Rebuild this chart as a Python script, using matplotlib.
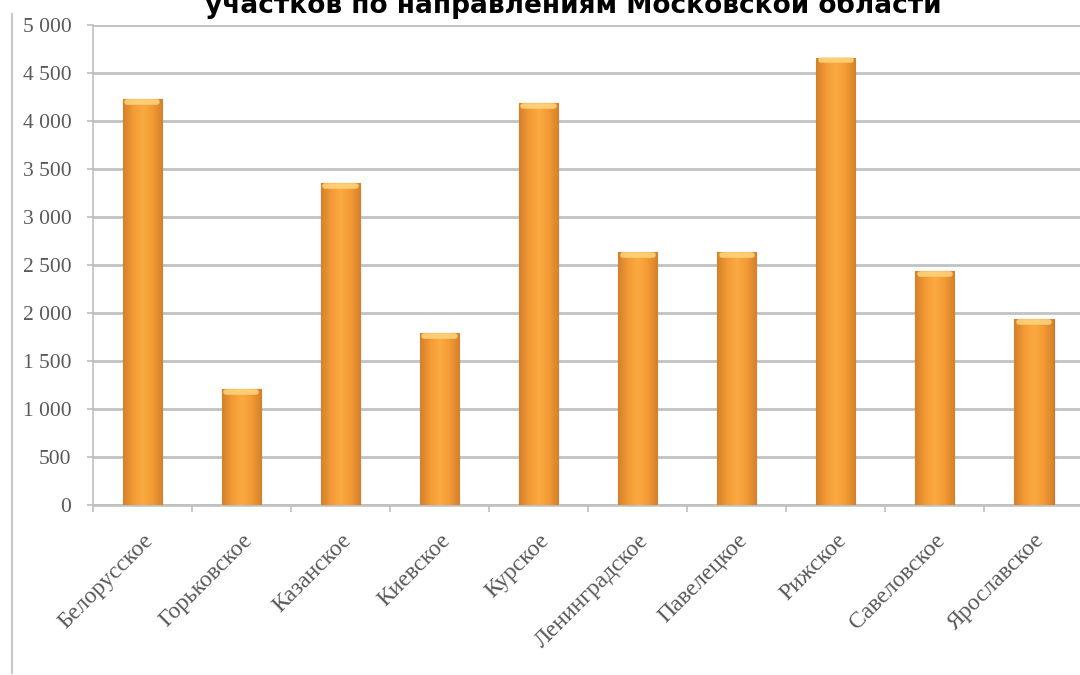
import numpy as np
import matplotlib
matplotlib.use("Agg")
import matplotlib.pyplot as plt
from matplotlib.colors import LinearSegmentedColormap
from matplotlib.lines import Line2D

# Data
directions = ["Белорусское", "Горьковское", "Казанское", "Киевское", "Курское",
              "Ленинградское", "Павелецкое", "Рижское", "Савеловское", "Ярославское"]
values = [4230, 1210, 3350, 1790, 4190, 2630, 2630, 4660, 2440, 1940]
yticks = [0, 500, 1000, 1500, 2000, 2500, 3000, 3500, 4000, 4500, 5000]
title = "участков по направлениям Московской области"

fig = plt.figure(figsize=(10.8, 6.75), dpi=100)
ax = fig.add_axes([0.086, 0.252, 0.917, 0.711])

# Bars: orange with horizontal gradient
bar_w = 0.4
x = np.arange(len(directions))
bars = ax.bar(x, values, width=bar_w, color="#F59C2E", edgecolor="#C97726",
              linewidth=0.8, zorder=3)
cmap = LinearSegmentedColormap.from_list("bar", ["#D5802A", "#F39A34", "#FBAA42", "#F39A34", "#D5802A"])
grad = np.linspace(0, 1, 64).reshape(1, -1)
for b in bars:
    bx, bw, bh = b.get_x(), b.get_width(), b.get_height()
    im = ax.imshow(grad, extent=[bx, bx + bw, 0, bh], aspect="auto", cmap=cmap, zorder=3.5,
                   interpolation="bicubic")
    im.set_clip_path(b)
    # light top cap
    ax.plot([bx + bw * 0.12, bx + bw * 0.88], [bh - 30, bh - 30], color="#FFD67E",
            lw=4, solid_capstyle="round", zorder=4, alpha=0.85)

ax.set_xlim(-0.5, len(directions) - 0.5)
ax.set_ylim(0, 5000)

# Grid and spines
ax.set_yticks(yticks)
ax.set_yticklabels([f"{v:,}".replace(",", " ") for v in yticks])
ax.yaxis.grid(True, color="#C2C2C2", lw=2, zorder=0)
ax.set_axisbelow(True)
for s in ["top", "right"]:
    ax.spines[s].set_visible(False)
ax.spines["left"].set_color("#BFBFBF")
ax.spines["bottom"].set_color("#BFBFBF")
ax.spines["left"].set_linewidth(1.2)
ax.spines["bottom"].set_linewidth(1.8)

ax.set_xticks(np.arange(-0.5, len(directions), 1.0), minor=True)
ax.set_xticks(x)
ax.set_xticklabels(directions, rotation=45, ha="right", rotation_mode="anchor",
                   family="Liberation Serif", fontsize=17, color="#595959")
ax.tick_params(axis="x", which="major", length=0, pad=18)
ax.tick_params(axis="x", which="minor", length=5, color="#BFBFBF", width=1.2)
ax.tick_params(axis="y", length=4.5, color="#BFBFBF", width=1.2, pad=11, labelsize=15.5,
               labelcolor="#595959")
for lbl in ax.get_yticklabels():
    lbl.set_family("Liberation Serif")

# Chart border remnant on the left
fig.add_artist(Line2D([0.011, 0.011], [0.003, 0.98], transform=fig.transFigure,
                      color="#C8C8C8", lw=1.5))

# Partly cropped title
fig.text(0.531, 1 - 13 / 675, title, ha="center", va="baseline",
         fontsize=19, fontweight="bold", family="DejaVu Sans")

fig.savefig("out.png", dpi=100)
